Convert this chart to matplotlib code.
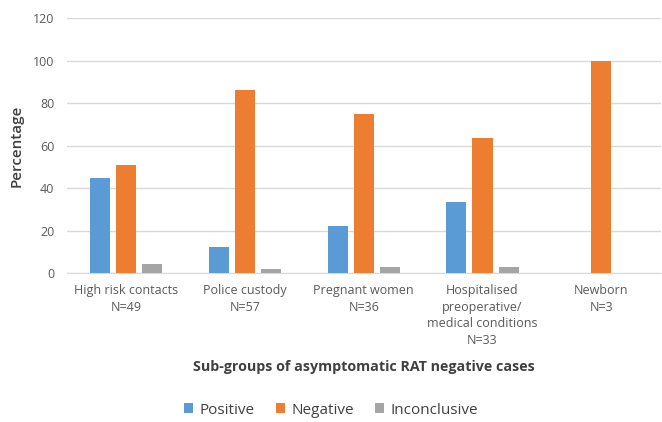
import matplotlib
matplotlib.use("Agg")
import matplotlib.pyplot as plt
import numpy as np

categories = ["High risk contacts\nN=49", "Police custody\nN=57", "Pregnant women\nN=36",
              "Hospitalised\npreoperative/\nmedical conditions\nN=33", "Newborn\nN=3"]
positive = [44.9, 12.3, 22.2, 33.3, 0]
negative = [51.0, 86.0, 75.0, 63.6, 100]
inconclusive = [4.1, 1.8, 2.8, 3.0, 0]
series_names = ["Positive", "Negative", "Inconclusive"]
colors = ["#5B9BD5", "#ED7D31", "#A5A5A5"]

plt.rcParams['font.family'] = ['Open Sans', 'DejaVu Sans']

fig = plt.figure(figsize=(6.62, 4.22), dpi=100)
ax = fig.add_axes([0.101, 0.353, 0.897, 0.604])

x = np.arange(len(categories))
w = 0.17
step = 0.22
for i, (vals, name, c) in enumerate(zip([positive, negative, inconclusive], series_names, colors)):
    ax.bar(x + (i - 1) * step, vals, width=w, color=c, label=name, zorder=3)

ax.set_xlim(-0.5, len(categories) - 0.5)
ax.set_ylim(0, 120)
ax.set_yticks(range(0, 121, 20))
ax.grid(axis='y', color='#D9D9D9', linewidth=1, zorder=0)
for s in ['top', 'right', 'left']:
    ax.spines[s].set_visible(False)
ax.spines['bottom'].set_color('#D9D9D9')
ax.tick_params(axis='both', length=0, colors='#595959', labelsize=9)
ax.tick_params(axis='x', pad=8)
ax.tick_params(axis='y', pad=9)
ax.set_xticks(x)
ax.set_xticklabels(categories, linespacing=1.35)
ax.set_ylabel("Percentage", fontsize=11, color='#404040', labelpad=7, fontweight='semibold')
fig.text(0.55, 1 - 367 / 422, "Sub-groups of asymptomatic RAT negative cases", ha='center', va='center',
         fontsize=10.3, fontweight='bold', color='#404040')

fig.legend(loc='center', bbox_to_anchor=(0.5, 1 - 410 / 422), ncol=3, frameon=False,
           fontsize=11, handlelength=0.6, handleheight=0.6, columnspacing=1.4, handletextpad=0.4,
           labelcolor='#404040')

fig.savefig("out.png", dpi=100)
